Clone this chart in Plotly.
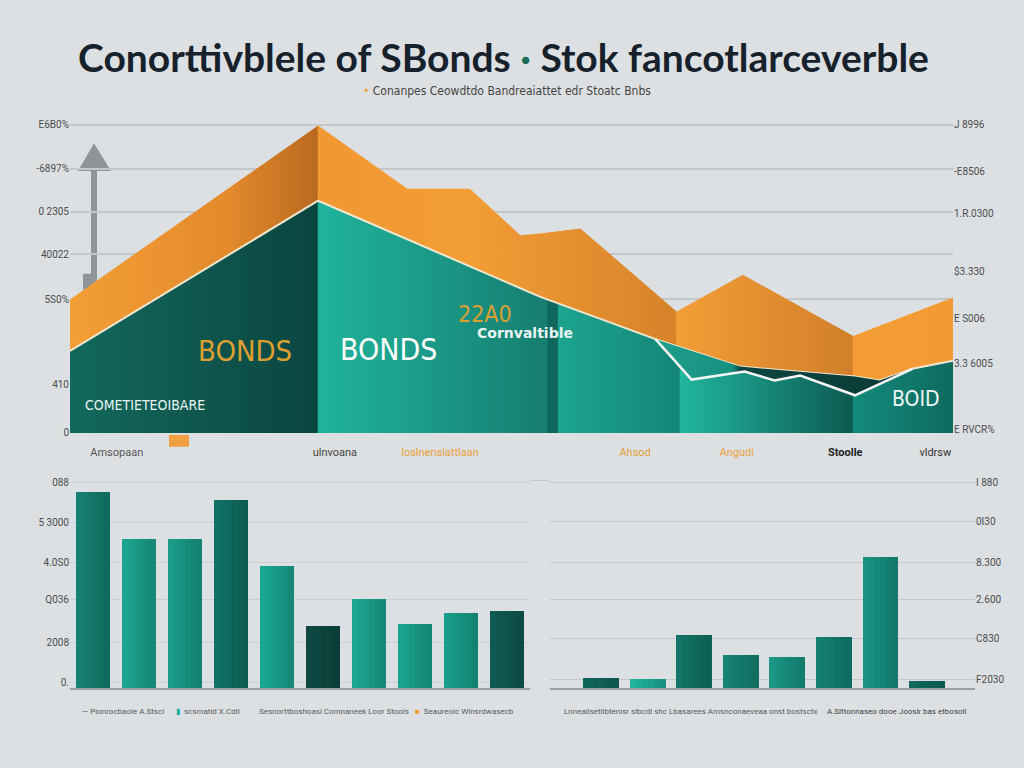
import plotly.graph_objects as go

W, H = 1024, 768
BG = "#dde0e2"

# ---------------- data ----------------
title_text = "Conorttivblele of SBonds <span style='color:#1b6b5a'>·</span> Stok fancotlarceverble"
subtitle_text = "<span style='color:#e8a03c'>•</span> Conanpes Ceowdtdo Bandreaiattet edr Stoatc Bnbs"

# top area chart (x in % of period, y in % of scale)
stock_x = [0, 28.1, 38.2, 45.3, 51.0, 53.2, 57.8, 68.7, 76.2, 88.7, 100]
stock_y = [43.3, 99.7, 79.2, 79.2, 64.1, 64.7, 66.3, 39.4, 51.3, 31.4, 43.9]
bond_x = [0, 28.1, 53.2, 66.3, 75.9, 88.9, 91.7, 95.4, 100]
bond_y = [26.6, 75.3, 44.2, 30.4, 21.5, 18.3, 17.0, 20.8, 23.4]
conv_x = [66.3, 70.4, 76.4, 79.8, 82.7, 88.9, 95.4]
conv_y = [30.4, 17.3, 19.9, 17.0, 18.6, 12.2, 20.8]

top_cat_x = [5.3, 30.0, 41.9, 64.0, 75.5, 87.8, 98.0]
top_cat_labels = ["Amsopaan", "ulnvoana", "loslnenslattlaan", "Ahsod", "Angudi", "Stoolle", "vldrsw"]
top_left_ticks = [100, 85.6, 71.8, 58.0, 43.3, 15.7, 0]
top_left_labels = ["E6B0%", "-6897%", "0 2305", "40022", "5S0%", "410", "0"]
top_right_ticks = [100, 84.9, 71.2, 52.2, 37.2, 22.4, 1.0]
top_right_labels = ["J 8996", "-E8506", "1.R.0300", "$3.330", "E S006", "3.3 6005", "E RVCR%"]

# bottom-left bars
bl_vals = [95.2, 72.1, 72.1, 91.3, 59.1, 29.8, 43.3, 30.8, 36.5, 37.5]
bl_ticks = [100, 80.3, 61.1, 42.8, 22.1, 2.4]
bl_labels = ["088", "5 3000", "4.0S0", "Q036", "2008", "0."]

# bottom-right bars
br_vals = [4.8, 4.3, 25.5, 15.9, 14.9, 24.5, 63.5, 3.4]
br_ticks = [100, 80.8, 61.1, 42.8, 24.0, 4.3]
br_labels = ["I 880", "0I30", "8.300", "2.600", "C830", "F2030"]

legend_left = ["— Pionrocbaole A.Stscl", "scsmatid X.Cdil",
               "Sesnorttboshoasi Comnaneek Loor Stools", "Seaureoic Wlnsrdwasecb"]
legend_right = ["Lnneallsetilbtenisr slbcdl shc Lbasarees Amsnconaeveaa onst bostsctx",
                "A.Slttonnaseo dooe Jooslr bas etbosoll"]

# ---------------- styling ----------------
bl_colors = ["#158172", "#1ba58f", "#199d89", "#127064", "#1ba893",
             "#0e4842", "#1ca791", "#1aa48e", "#1a9e8a", "#115a52"]
br_colors = ["#11665c", "#20b29b", "#137467", "#168375", "#199684",
             "#148072", "#179282", "#116a60"]

def px(x, y):
    return x / W, 1 - y / H

TOP_MAX = 101          # a little headroom so the 100 gridline is drawn
TOP_SCALE = 3.12       # px per unit
BOT_MAX = 101
BOT_SCALE = 2.08

fig = go.Figure()

# orange (stocks) area
fig.add_trace(go.Scatter(
    x=stock_x, y=stock_y, mode="lines", line=dict(width=0, color="#f29a36"),
    fill="tozeroy",
    fillgradient=dict(type="horizontal", start=0, stop=100, colorscale=[
        [0, "#f39e36"], [0.18, "#e38a2c"], [0.28, "#b9691f"], [0.2811, "#f09832"], [0.45, "#f39d36"],
        [0.686, "#d6832a"], [0.687, "#f39e37"], [0.886, "#d17f2a"], [0.887, "#f49d36"], [1, "#f29a34"]]),
    xaxis="x", yaxis="y", hoverinfo="skip", showlegend=False))

# teal (bonds) area
fig.add_trace(go.Scatter(
    x=bond_x, y=bond_y, mode="lines", line=dict(width=2, color="#efe6cf"),
    fill="tozeroy",
    fillgradient=dict(type="horizontal", start=0, stop=100, colorscale=[
        [0, "#13685c"], [0.28, "#0b4641"], [0.2811, "#20b49c"], [0.54, "#167e71"],
        [0.541, "#0f665c"], [0.552, "#0f675d"], [0.553, "#1ca48f"], [0.69, "#148677"],
        [0.691, "#21b69f"], [0.886, "#0d5a52"], [0.887, "#138a7b"], [1, "#0f6a60"]]),
    xaxis="x", yaxis="y", hoverinfo="skip", showlegend=False))

# dark band between bond line and convertible line
in_rng = [i for i, v in enumerate(bond_x) if conv_x[0] <= v <= conv_x[-1]]
band_x = [bond_x[i] for i in in_rng] + conv_x[::-1]
band_y = [bond_y[i] for i in in_rng] + conv_y[::-1]
fig.add_trace(go.Scatter(
    x=band_x, y=band_y, mode="lines", line=dict(width=0), fill="toself",
    fillgradient=dict(type="horizontal", start=conv_x[0], stop=conv_x[-1], colorscale=[
        [0, "#1ea08c"], [0.3, "#18907f"], [0.33, "#0d4540"], [1, "#0b3a36"]]),
    xaxis="x", yaxis="y", hoverinfo="skip", showlegend=False))

# convertible white zigzag
fig.add_trace(go.Scatter(
    x=conv_x, y=conv_y, mode="lines", line=dict(width=2.5, color="#f4f6f6"),
    xaxis="x", yaxis="y", hoverinfo="skip", showlegend=False))

# right axis ghost trace
fig.add_trace(go.Scatter(x=[0], y=[0], mode="markers", marker=dict(opacity=0),
                         xaxis="x", yaxis="y2", hoverinfo="skip", showlegend=False))

# bars with a left-to-right shading (overlaid darker slices on the same values)
def shaded_bars(vals, colors, width, xa, ya):
    xs = list(range(len(vals)))
    fig.add_trace(go.Bar(x=xs, y=vals, marker=dict(color=colors, line=dict(width=0)),
                         width=width, xaxis=xa, yaxis=ya, hoverinfo="skip", showlegend=False))
    n = 6
    sw = width / n
    for k in range(1, n):
        fig.add_trace(go.Bar(x=xs, y=vals, width=sw, offset=-width / 2 + k * sw,
                             marker=dict(color=f"rgba(0,20,20,{0.04 * k:.2f})", line=dict(width=0)),
                             xaxis=xa, yaxis=ya, hoverinfo="skip", showlegend=False))

shaded_bars(bl_vals, bl_colors, 0.74, "x3", "y3")
shaded_bars(br_vals, br_colors, 0.77, "x4", "y4")

tick_font = dict(family="Roboto", size=10, color="#4a4d50")
grid_c = "#c4c7ca"

top_dom_y = [1 - 435 / H, 1 - (435 - TOP_MAX * TOP_SCALE) / H]
bot_dom_y = [1 - 693 / H, 1 - (693 - BOT_MAX * BOT_SCALE) / H]
label_styles = ["color:#555", "color:#444", "color:#e8a03c", "color:#e0a040",
                "color:#e8a03c", "color:#222", "color:#333"]
ticktext_top = [f"<span style='{s}'>{t}</span>" for s, t in zip(label_styles, top_cat_labels)]
ticktext_top[5] = f"<b style='color:#222'>{top_cat_labels[5]}</b>"

fig.update_layout(
    width=W, height=H, margin=dict(l=0, r=0, t=0, b=0),
    paper_bgcolor=BG, plot_bgcolor=BG, showlegend=False, bargap=0, barmode="overlay",
    xaxis=dict(domain=[70 / W, 953 / W], range=[0, 100], showgrid=False, zeroline=False,
               tickvals=top_cat_x, ticktext=ticktext_top, ticks="", tickfont=dict(family="Roboto", size=11),
               anchor="y", showline=False, ticklabelstandoff=11),
    yaxis=dict(domain=top_dom_y, range=[0, TOP_MAX], tickvals=top_left_ticks, ticktext=top_left_labels,
               showgrid=True, gridcolor=grid_c, gridwidth=1.5, zeroline=False, tickfont=tick_font,
               anchor="x", ticks=""),
    yaxis2=dict(domain=top_dom_y, range=[0, TOP_MAX], overlaying="y", side="right", anchor="x",
                tickvals=top_right_ticks, ticktext=top_right_labels, showgrid=False, zeroline=False,
                tickfont=tick_font, ticks=""),
    xaxis3=dict(domain=[70 / W, 530 / W], range=[-0.5, 9.5], anchor="y3", showgrid=False,
                showticklabels=False, zeroline=False, showline=True, linecolor="#9aa0a4", linewidth=1.5),
    yaxis3=dict(domain=bot_dom_y, range=[0, BOT_MAX], anchor="x3",
                tickvals=bl_ticks, ticktext=bl_labels, showgrid=True, gridcolor="#cdd0d3", gridwidth=1.2,
                zeroline=False, tickfont=tick_font, ticks=""),
    xaxis4=dict(domain=[550 / W, 975 / W], range=[-1.095, 8.03], anchor="y4", showgrid=False,
                showticklabels=False, zeroline=False, showline=True, linecolor="#9aa0a4", linewidth=1.5),
    yaxis4=dict(domain=bot_dom_y, range=[0, BOT_MAX], anchor="x4", side="right",
                tickvals=br_ticks, ticktext=br_labels, showgrid=True, gridcolor="#c4c7ca", gridwidth=1.2,
                zeroline=False, tickfont=tick_font, ticks=""),
)

# arrow (decorative) in paper coords
ax0, ay0 = px(91, 290)
ax1, ay1 = px(97, 168)
fig.add_shape(type="rect", xref="paper", yref="paper", x0=ax0, x1=ax1, y0=ay0, y1=ay1,
              fillcolor="#8f9498", line=dict(width=0), layer="below")
bx0, by0 = px(83, 290)
bx1, by1 = px(97, 274)
fig.add_shape(type="rect", xref="paper", yref="paper", x0=bx0, x1=bx1, y0=by0, y1=by1,
              fillcolor="#8f9498", line=dict(width=0), layer="below")
h1 = px(78, 170); h2 = px(94, 142); h3 = px(111, 170)
fig.add_shape(type="path", xref="paper", yref="paper",
              path=f"M {h1[0]},{h1[1]} L {h2[0]},{h2[1]} L {h3[0]},{h3[1]} Z",
              fillcolor="#8f9498", line=dict(width=0), layer="below")

# small orange marker under top chart
s0 = px(169, 437); s1 = px(189, 449)
fig.add_shape(type="rect", xref="paper", yref="paper", x0=s0[0], x1=s1[0], y0=s1[1], y1=s0[1],
              fillcolor="#f0a040", line=dict(width=0))

# top line spanning bottom charts gap
g0 = px(530, 483); g1 = px(550, 483)
fig.add_shape(type="line", xref="paper", yref="paper", x0=g0[0], x1=g1[0], y0=g0[1], y1=g1[1],
              line=dict(color="#c4c7ca", width=1.2))

def ann(text, x, y, size, color, family="Roboto", xanchor="center", bold=False):
    p = px(x, y)
    t = f"<b>{text}</b>" if bold else text
    fig.add_annotation(text=t, x=p[0], y=p[1], xref="paper", yref="paper", showarrow=False,
                       xanchor=xanchor, yanchor="middle", font=dict(family=family, size=size, color=color))

ann(title_text, 503, 55, 39, "#17212b", family="Lato", bold=True)
ann(subtitle_text, 507, 89, 12, "#444", family="DejaVu Sans Condensed")

ann("BONDS", 245, 352, 29, "#dda030", family="DejaVu Sans Condensed")
ann("BONDS", 388, 351, 30, "#ffffff", family="DejaVu Sans Condensed")
ann("22A0", 485, 315, 23, "#d9a030", family="DejaVu Sans Condensed")
ann("Cornvaltible", 525, 334, 14, "#e8f5f2", family="DejaVu Sans", bold=True)
ann("COMETIETEOIBARE", 145, 407, 14, "#e8f5f2", family="DejaVu Sans Condensed")
ann("BOID", 916, 401, 21, "#eef7f5", family="DejaVu Sans Condensed")

# bottom legends
leg_c = "#555a5e"
ann(legend_left[0], 80, 717, 8, leg_c, xanchor="left")
ann(f"<span style='color:#1fae97'>▮</span>  {legend_left[1]}", 174, 717, 8, leg_c, xanchor="left")
ann(legend_left[2], 257, 717, 8, leg_c, xanchor="left")
ann(f"<span style='color:#f29a38'>■</span>  {legend_left[3]}", 413, 717, 8, leg_c, xanchor="left")
ann(legend_right[0], 562, 717, 8, leg_c, xanchor="left")
ann(legend_right[1], 825, 717, 8, "#3d4144", xanchor="left")

fig.write_html("out.html", config={"displayModeBar": False},
               post_script="document.body.style.margin='0px';document.body.style.overflow='hidden';")
